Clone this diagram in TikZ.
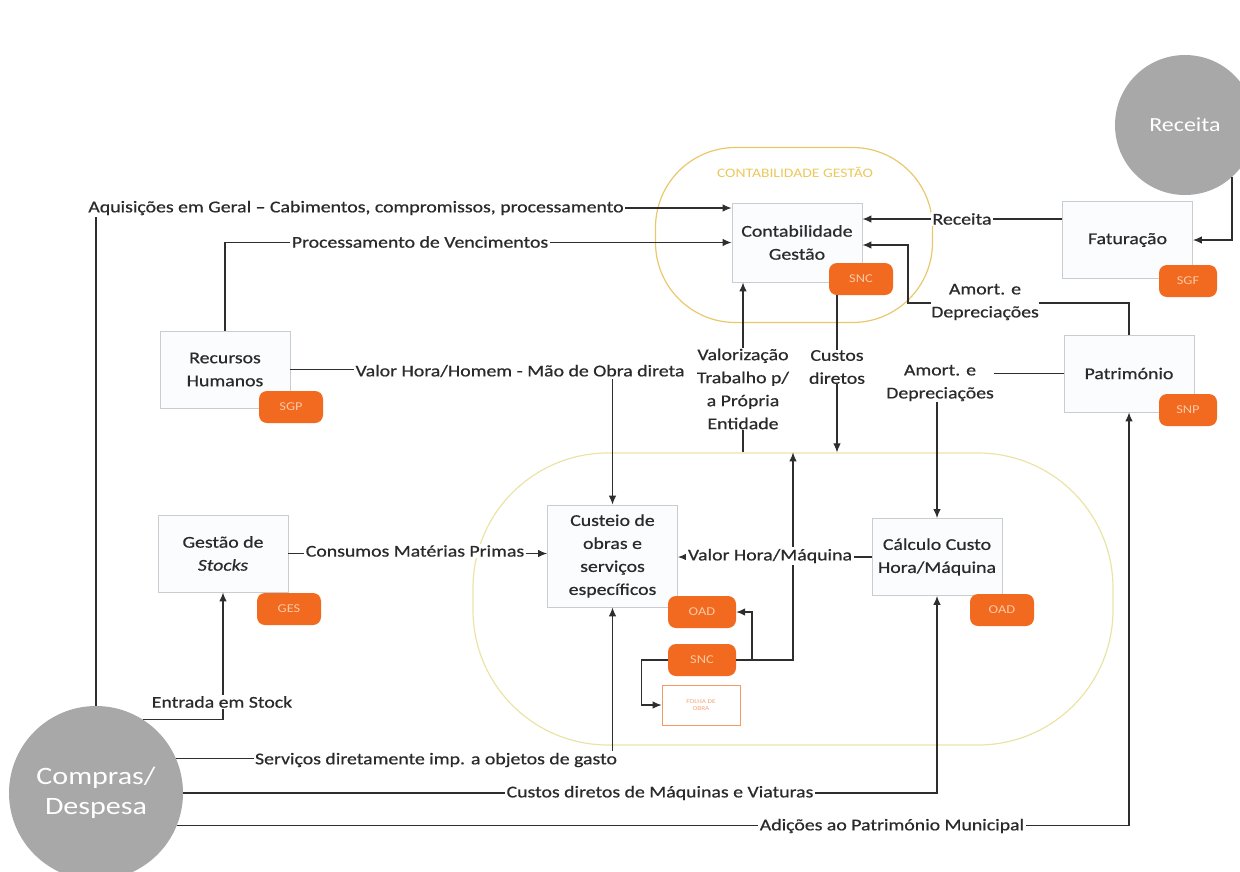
\documentclass[tikz,border=0pt]{standalone}
\usepackage{fontspec}
\setmainfont{Carlito}[FakeStretch=1.2,FakeBold=0.6]
\newfontfamily\plainfont{Carlito}[FakeStretch=1.2]
\usetikzlibrary{arrows.meta,calc,shapes.geometric}
\definecolor{ln}{HTML}{2E2E2E}
\definecolor{txt}{HTML}{2A2A2A}
\definecolor{boxdraw}{HTML}{C9CCD0}
\definecolor{boxfill}{HTML}{FBFCFE}
\definecolor{badgeor}{HTML}{F26A1F}
\definecolor{badgetx}{HTML}{FBC9A6}
\definecolor{goldline}{HTML}{E8C86A}
\definecolor{paleline}{HTML}{EBE3A6}
\definecolor{goldtx}{HTML}{EBC85C}
\definecolor{circ}{HTML}{A8A8A8}
\begin{document}
\begin{tikzpicture}[x=1pt,y=-1pt,
  lfont/.style={font=\fontsize{16.5}{23}\selectfont},
  box/.style={draw=boxdraw, fill=boxfill, line width=0.9pt, minimum width=130pt, minimum height=77pt, align=center, text=txt, lfont},
  badge/.style={fill=badgeor, rounded corners=8pt, minimum width=64pt, minimum height=32pt, inner sep=0pt, text=badgetx, font=\plainfont\fontsize{12}{13}\selectfont},
  lbl/.style={fill=white, inner sep=1.5pt, text=txt, lfont, align=center},
  arr/.style={draw=ln, line width=1.1pt, -{Latex[length=9pt,width=7.5pt]}},
  con/.style={draw=ln, line width=1.1pt},
  bigc/.style={circle, fill=circ, inner sep=0pt, text=white, align=center}
]
\useasboundingbox (0,0) rectangle (1240,871);

% grouping shapes
\node[draw=goldline, line width=1.2pt, rounded corners=80pt, minimum width=277pt, minimum height=175pt] (cge) at (794,235) {};
\node[text=goldtx, font=\plainfont\fontsize{13}{14}\selectfont] (cgetitle) at (795,172) {CONTABILIDADE GESTÃO};
\node[draw=paleline, line width=1.2pt, rounded corners=135pt, minimum width=640pt, minimum height=292pt] (proc) at (793,599) {};

% circles
\node[bigc, minimum size=140pt, font=\plainfont\fontsize{20}{24}\selectfont] (rec) at (1185,125) {Receita};
\node[bigc, minimum size=174pt, font=\plainfont\fontsize{25}{30}\selectfont] (comp) at (96,793) {Compras/\\Despesa};

% boxes
\node[box, minimum height=79pt] (contab) at (797,242.5) {Contabilidade\\Gestão};
\node[box] (fat) at (1127.5,240) {Faturação};
\node[box] (pat) at (1129,373.5) {Património};
\node[box] (rh) at (225,369.5) {Recursos\\Humanos};
\node[box] (stk) at (223,553.5) {Gestão de\\\textit{Stocks}};
\node[box, minimum height=102pt] (cust) at (612.5,556) {Custeio de\\obras e\\serviços\\específicos};
\node[box] (calc) at (937,557) {Cálculo Custo\\Hora/Máquina};

% badges
\node[badge] (snc1) at (861,279) {SNC};
\node[badge, minimum width=58pt] (sgf) at (1188,281) {SGF};
\node[badge, minimum width=58pt] (snp) at (1188,410) {SNP};
\node[badge] (sgp) at (291,407) {SGP};
\node[badge] (ges) at (289,609) {GES};
\node[badge, minimum width=68pt] (oad1) at (702,612) {OAD};
\node[badge, minimum width=68pt] (snc2) at (702,660) {SNC};
\node[badge] (oad2) at (1002,610) {OAD};
\node[draw=badgeor!70, line width=0.8pt, fill=white, minimum width=78pt, minimum height=40pt, align=center, text=badgeor!60, font=\plainfont\fontsize{6}{7}\selectfont] (folha) at (701,705) {FOLHA DE\\OBRA};

% connectors
\draw[arr] (comp.north) |- (contab.west |- 0,208);
\draw[arr] (rh.north) |- (contab.west);
\draw[arr] (fat.west |- 0,219) -- (contab.east |- 0,219);
\draw[arr] (rec.-48) |- (fat.east);
\coordinate (amj) at (908,303);
\draw[arr] (pat.north) |- (amj) |- (contab.east |- 0,245);
\draw[arr] (pat.west) -| (calc.north);
\draw[arr] (rh.east) -| (cust.north);
\draw[arr] (stk.east) -- (stk.east -| cust.west);
\draw[arr] (calc.west) -- (calc.west -| cust.east);
\draw[arr] (743,0 |- proc.north) -- (743,0 |- contab.south);
\draw[arr] (snc1.south -| 837,0) -- (837,0 |- proc.north);
\draw[arr] (snc2.east) -| (793,0 |- proc.north);
\draw[arr] (752,0 |- snc2.east) |- (oad1.east);
\draw[arr] (snc2.west) -- ++(-26,0) |- (folha.west);
\draw[arr] (comp.57) -| (stk.south);
\draw[arr] (comp.23) -| (cust.south);
\draw[arr] (comp.east) -| (calc.south);
\draw[arr] (comp.-22) -| (pat.south);

% labels
\node[lbl] (l1) at (356,208) {Aquisições em Geral – Cabimentos, compromissos, processamento};
\node[lbl] (l2) at (420,242) {Processamento de Vencimentos};
\node[lbl] (l3) at (962,219) {Receita};
\node[lbl, inner sep=0.5pt] (l4) at (985,302) {Amort. e\\Depreciações};
\node[lbl, inner sep=0.5pt] (l5) at (940,383) {Amort. e\\Depreciações};
\node[lbl] (l6) at (520,371) {Valor Hora/Homem - Mão de Obra direta};
\node[lbl, inner sep=0.5pt] (l7) at (743,389) {Valorização\\Trabalho p/\\a Própria\\Entidade};
\node[lbl, inner sep=0.5pt] (l8) at (837,367) {Custos\\diretos};
\node[lbl] (l9) at (415,551) {Consumos Matérias Primas};
\node[lbl] (l10) at (770,556) {Valor Hora/Máquina};
\node[lbl] (l11) at (222,702) {Entrada em Stock};
\node[lbl] (l12) at (436,760) {Serviços diretamente imp. a objetos de gasto};
\node[lbl] (l13) at (660,793) {Custos diretos de Máquinas e Viaturas};
\node[lbl] (l14) at (892,826) {Adições ao Património Municipal};
\end{tikzpicture}
\end{document}
